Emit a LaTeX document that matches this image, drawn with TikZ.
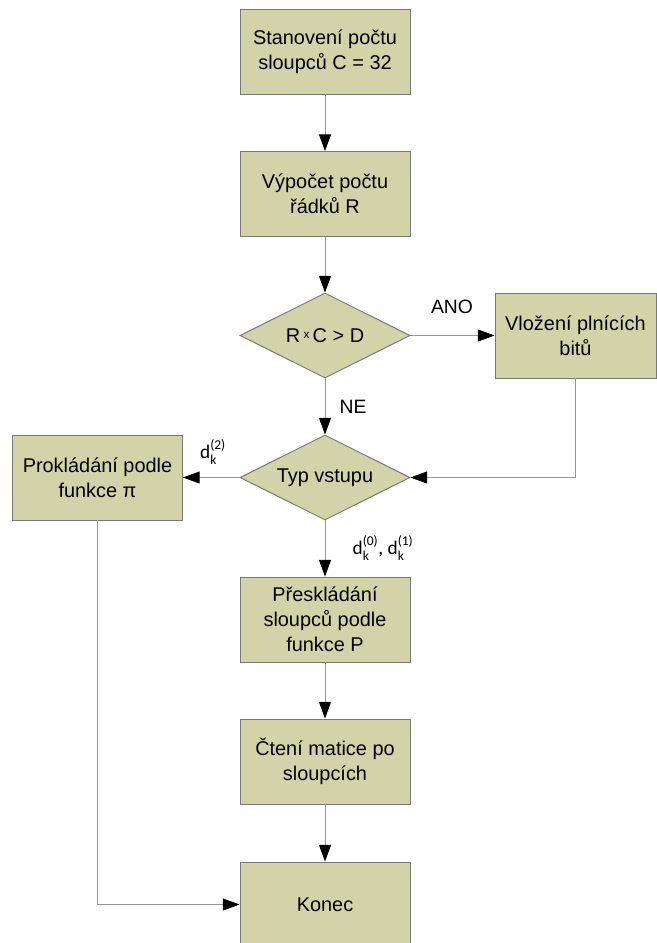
\documentclass[tikz,border=0pt]{standalone}
\usepackage{amsmath}
\usepackage{fontspec}
\setmainfont{Liberation Sans}
\newfontfamily\labelfont{Carlito}
\usetikzlibrary{shapes.geometric,arrows.meta}
\definecolor{boxfill}{RGB}{211,211,170}
\definecolor{boxline}{RGB}{120,120,120}
\definecolor{wire}{RGB}{150,150,150}
\begin{document}
\begin{tikzpicture}[
    x=0.03cm, y=-0.03cm,
    font=\fontsize{17}{21.5}\selectfont,
    box/.style={rectangle, draw=boxline, fill=boxfill, line width=0.8pt, minimum width=5.1cm, minimum height=2.55cm, align=center, inner sep=2pt},
    decision/.style={diamond, aspect=2, draw=boxline, fill=boxfill, line width=0.8pt, minimum width=5.1cm, minimum height=2.55cm, inner sep=0pt, align=center},
    tag/.style={font=\labelfont\fontsize{16.5}{19}\selectfont},
    answer/.style={font=\fontsize{16.5}{19}\selectfont},
    arrow/.style={draw=wire, line width=0.8pt, -{Triangle[length=0.5cm, width=0.36cm, color=black]}}
]
\clip (0,0) rectangle (657,943);

% Main column
\node[box] (start) at (325,51.5) {Stanovení počtu\\sloupců C = 32};
\node[box] (rows) at (325,194) {Výpočet počtu\\řádků R};
\node[decision] (check) at (325,335.5) {R\,\raisebox{3pt}{\fontsize{10}{12}\selectfont x}\,C > D};
\node[decision] (input) at (325,477.5) {Typ vstupu};
\node[box] (permute) at (325,619.5) {Přeskládání\\sloupců podle\\funkce P};
\node[box] (read) at (325,761.5) {Čtení matice po\\sloupcích};
\node[box] (finish) at (325,904.5) {Konec};

% Side boxes
\node[box, minimum width=4.83cm] (padding) at (575.5,335.5) {Vložení plnících\\bitů};
\node[box] (interleave) at (97.5,477.5) {Prokládání podle\\funkce π};

% Labels
\node[answer] (yes) at (452,307) {ANO};
\node[answer] (no) at (353,407) {NE};
\node[tag] (dtwo) at (213,452) {d$_{\text{k}}^{\text{(2)}}$};
\node[tag] (dzero) at (383,548) {d$_{\text{k}}^{\text{(0)}}$, d$_{\text{k}}^{\text{(1)}}$};

% Connections
\draw[arrow] (start) -- (rows);
\draw[arrow] (rows) -- (check);
\draw[arrow] (check) -- (padding);
\draw[arrow] (check) -- (input);
\draw[arrow] (padding.south) |- (input.east);
\draw[arrow] (input) -- (interleave);
\draw[arrow] (input) -- (permute);
\draw[arrow] (permute) -- (read);
\draw[arrow] (read) -- (finish);
\draw[arrow] (interleave.south) |- (finish.west);

\end{tikzpicture}
\end{document}
